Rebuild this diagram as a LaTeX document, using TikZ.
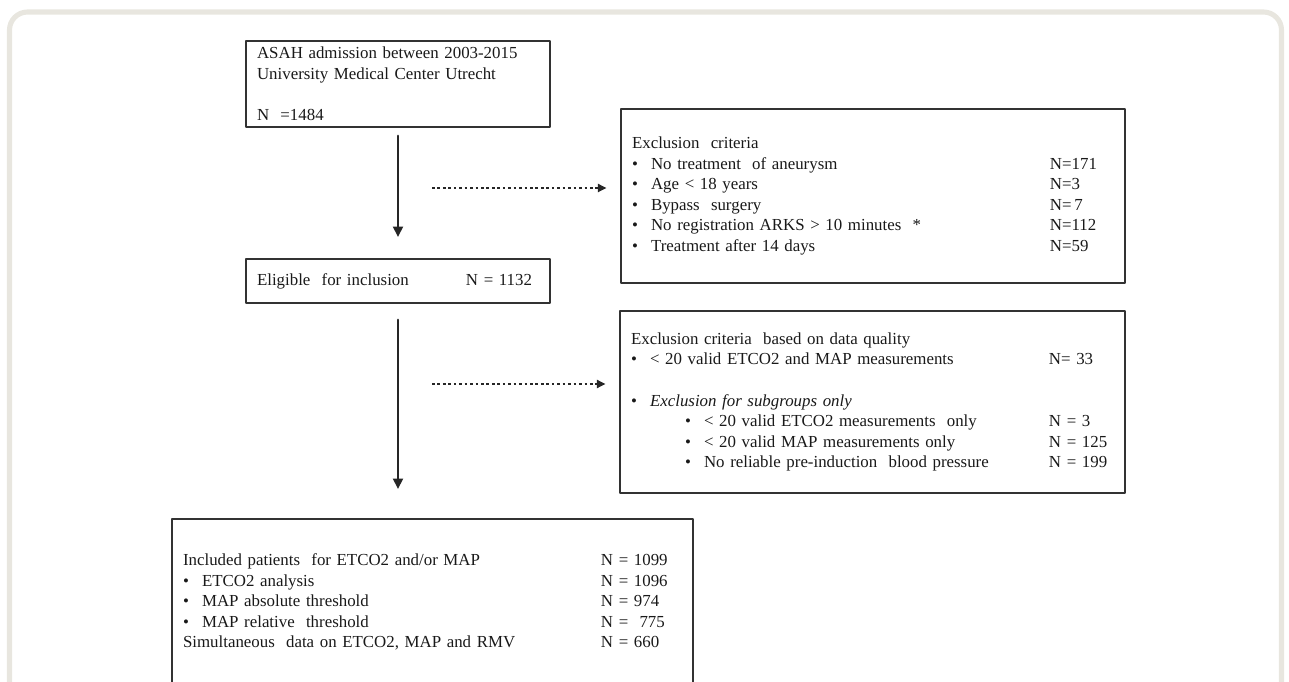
\documentclass[tikz,border=0pt]{standalone}
\usepackage{fontspec}
\setmainfont{Liberation Serif}
\usetikzlibrary{arrows.meta}
\definecolor{framegray}{RGB}{232,230,223}
\definecolor{boxgray}{RGB}{50,50,50}
\definecolor{textgray}{RGB}{25,25,25}
\newcommand{\bul}{\makebox[0.38cm][l]{\textbullet}}
\newcommand{\ncol}[1]{\makebox[8.36cm][l]{#1}}

\begin{document}
\begin{tikzpicture}[line cap=round,line join=round,
    x=0.02cm,y=-0.02cm,
    flowbox/.style={draw=boxgray,line width=1pt,rectangle,align=left,
        inner xsep=0.22cm,text=textgray,font=\fontsize{9.6}{11.7}\selectfont},
    flow/.style={draw=black!85,line width=1.5pt,
        -{Triangle[length=6pt,width=5.5pt]}},
    dotflow/.style={draw=black!85,line width=1.5pt,line cap=butt,
        dash pattern=on 1.5pt off 1.6pt,
        -{Triangle[length=5pt,width=4.5pt]}}]
\clip (0,0) rectangle (1289,682);
\draw[framegray,line width=2.9pt,rounded corners=0.36cm] (9.5,12) rectangle (1281.5,740);

\node[flowbox,text width=5.64cm,minimum height=1.72cm] (asah) at (398,84)
    {ASAH admission between 2003-2015\\University Medical Center Utrecht\\[11.7pt]N\ \ =1484};
\node[flowbox,text width=5.64cm,minimum height=0.88cm] (elig) at (398,281)
    {\makebox[4.18cm][l]{Eligible\ \ for inclusion}\mbox{N =\ 1132}};

\node[flowbox,text width=9.64cm,minimum height=3.48cm] (exc1) at (873,196)
    {\ncol{Exclusion\ \ criteria}\\
     \ncol{\bul No treatment\ \ of aneurysm}N=171\\
     \ncol{\bul Age < 18 years}N=3\\
     \ncol{\bul Bypass\ \ surgery}N=\,7\\
     \ncol{\bul No registration ARKS > 10 minutes\ \ *}N=112\\
     \ncol{\bul Treatment\ after 14 days}N=59};

\node[flowbox,text width=9.66cm,minimum height=3.64cm] (exc2) at (872.5,402)
    {\ncol{Exclusion criteria\ \ based on data quality}\\
     \ncol{\bul < 20 valid ETCO2 and MAP measurements}N=\ 33\\[11.7pt]
     \ncol{\bul \textit{Exclusion for subgroups only}}\\
     \ncol{\hspace*{1.08cm}\bul < 20 valid ETCO2 measurements\ \ only}N =\ 3\\
     \ncol{\hspace*{1.08cm}\bul < 20 valid MAP measurements only}N = 125\\
     \ncol{\hspace*{1.08cm}\bul No reliable pre-induction\ \ blood pressure}N = 199};

\node[flowbox,text width=9.98cm,minimum height=3.32cm] (incl) at (432.5,602)
    {\ncol{Included patients\ \ for ETCO2 and/or MAP}N = 1099\\
     \ncol{\bul ETCO2 analysis}N = 1096\\
     \ncol{\bul MAP absolute threshold}N = 974\\
     \ncol{\bul MAP relative\ \ threshold}N =\ \ 775\\
     \ncol{Simultaneous\ \ data on ETCO2, MAP and RMV}N = 660};

\draw[flow,shorten <=0.16cm,shorten >=0.42cm] (asah) -- (elig);
\draw[flow,shorten <=0.32cm,shorten >=0.58cm] (elig.south) -- (elig.south |- incl.north);

\coordinate (d1) at (432,188);
\coordinate (d2) at (432,384);
\foreach \d/\b in {
    d1/exc1,
    d2/exc2%
}
{
    \draw[dotflow,shorten >=0.27cm] (\d) -- (\d -| \b.west);
}
\end{tikzpicture}
\end{document}
